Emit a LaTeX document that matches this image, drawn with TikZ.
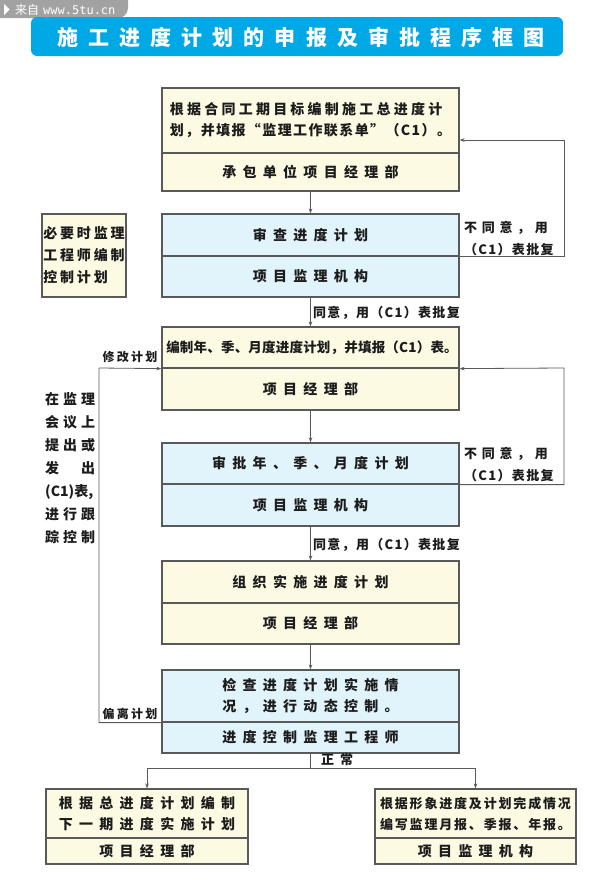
\documentclass[tikz,border=0pt]{standalone}
\usepackage{fontspec}
\setmainfont{Noto Sans CJK SC}
\newfontfamily\tabfont{DejaVu Sans Mono}
\newfontfamily\titlefont{Noto Sans CJK SC}[LetterSpace=48]
\usetikzlibrary{arrows.meta}

\definecolor{cream}{HTML}{FDFAE3}
\definecolor{paleblue}{HTML}{E1F3FB}
\definecolor{edge}{HTML}{595959}
\definecolor{ink}{HTML}{1C1C1C}
\definecolor{titleblue}{HTML}{00A8E6}
\definecolor{tabgray}{HTML}{A2A2A2}

\tikzset{
  yellowbox/.style={draw=edge, line width=1.2pt, fill=cream, minimum width=297pt, inner sep=0pt, text=ink},
  bluebox/.style={yellowbox, fill=paleblue},
  flow/.style={draw=edge, line width=0.8pt, -{Stealth[length=5pt,width=3.6pt]}},
  wire/.style={draw=edge, line width=0.8pt},
  wide/.style={font={\bfseries\fontsize{14}{21}\selectfont\addfontfeature{LetterSpace=45}}},
  tight/.style={font={\bfseries\fontsize{14}{21}\selectfont\addfontfeature{LetterSpace=23}}},
  note/.style={text=ink, inner sep=0pt, font={\bfseries\fontsize{13}{22}\selectfont\addfontfeature{LetterSpace=10}}},
  small/.style={text=ink, inner sep=0pt, font={\bfseries\fontsize{12}{14}\selectfont\addfontfeature{LetterSpace=19}}}
}

\begin{document}
\begin{tikzpicture}[x=1pt, y=-1pt]
\useasboundingbox (0,0) rectangle (591,886);

% source tab and title bar
\fill[tabgray, rounded corners=10pt] (-14,-14) rectangle (128,18);
\fill[white] (4,4) -- (9.5,9.5) -- (4,15) -- cycle;
\node[anchor=west, inner sep=0pt, text=white, font=\fontsize{12}{12}\selectfont] (tab) at (15,9.5) {来自\hspace{4pt}{\tabfont\fontsize{12}{12}\selectfont www.5tu.cn}};
\fill[titleblue, rounded corners=6pt] (31,17) rectangle (563,56);
\node[text=white, inner sep=0pt, font={\titlefont\bfseries\fontsize{21}{21}\selectfont}] (title) at (301,37) {施工进度计划的申报及审批程序框图};

% main column
\node[yellowbox, minimum height=65pt, align=left, tight] (b1) at (310.5,120.5) {根据合同工期目标编制施工总进度计\\{\addfontfeature{LetterSpace=10}划，并填报“监理工作联系单”（C1）。}};
\node[yellowbox, minimum height=38pt, wide] (b1l) at (310.5,172) {承包单位项目经理部};

\node[bluebox, minimum height=42pt, wide] (b2) at (310.5,235) {审查进度计划};
\node[bluebox, minimum height=41pt, wide] (b2l) at (310.5,276.5) {项目监理机构};

\node[yellowbox, minimum height=41pt, font={\bfseries\fontsize{13.5}{20}\selectfont\addfontfeature{LetterSpace=1.5}}] (b3) at (310.5,347.5) {\hspace*{3pt}编制年、季、月度进度计划，并填报（C1）表。};
\node[yellowbox, minimum height=42pt, wide] (b3l) at (310.5,389) {项目经理部};

\node[bluebox, minimum height=41pt, wide] (b4) at (310.5,463.5) {审批年、季、月度计划};
\node[bluebox, minimum height=42pt, wide] (b4l) at (310.5,505) {项目监理机构};

\node[yellowbox, minimum height=42pt, wide] (b5) at (310.5,582) {组织实施进度计划};
\node[yellowbox, minimum height=41pt, wide] (b5l) at (310.5,623.5) {项目经理部};

\node[bluebox, minimum height=52pt, align=left, wide] (b6) at (310.5,696) {检查进度计划实施情\\况，进行动态控制。};
\node[bluebox, minimum height=31pt, wide] (b6l) at (310.5,737.5) {进度控制监理工程师};

% bottom boxes
\node[yellowbox, minimum width=202pt, minimum height=49pt, align=center, wide] (b7) at (147,813.5) {根据总进度计划编制\\下一期进度实施计划};
\node[yellowbox, minimum width=202pt, minimum height=26pt, wide] (b7l) at (147,851) {项目经理部};
\node[yellowbox, minimum width=201pt, minimum height=49pt, align=center, font={\bfseries\fontsize{13}{21}\selectfont\addfontfeature{LetterSpace=14}}] (b8) at (475.5,813.5) {根据形象进度及计划完成情况\\编写监理月报、季报、年报。};
\node[yellowbox, minimum width=201pt, minimum height=26pt, wide] (b8l) at (475.5,851) {项目监理机构};

% left side
\node[yellowbox, minimum width=84pt, minimum height=83pt, align=left, font={\bfseries\fontsize{14}{22}\selectfont\addfontfeature{LetterSpace=20}}] (side) at (84,255.5) {必要时监理\\工程师编制\\控制计划};
\node[anchor=west, inner sep=0pt, text=ink, align=left, font={\bfseries\fontsize{14}{23}\selectfont\addfontfeature{LetterSpace=28}}] (meet) at (45,468) {在监理\\会议上\\提出或\\发　出\\{\addfontfeature{LetterSpace=0}(C1)表,}\\进行跟\\踪控制};

% labels
\node[note, anchor=west] (ok1) at (313,313) {同意，用（C1）表批复};
\node[note, anchor=west] (ok2) at (313,545) {同意，用（C1）表批复};
\node[note, anchor=west, align=left] (no1) at (464,238.5) {{\addfontfeature{LetterSpace=36}不同意，用}\\（C1）表批复};
\node[note, anchor=west, align=left] (no2) at (464,465) {{\addfontfeature{LetterSpace=36}不同意，用}\\（C1）表批复};
\node[small] (modify) at (130,357) {修改计划};
\node[small] (deviate) at (130,714) {偏离计划};
\node[note, anchor=west, font={\bfseries\fontsize{13}{13}\selectfont\addfontfeature{LetterSpace=45}}] (normal) at (321,760) {正常};

% connectors
\draw[flow] (b1l) -- (b2);
\draw[flow] (b2l) -- (b3);
\draw[flow] (b3l) -- (b4);
\draw[flow] (b4l) -- (b5);
\draw[flow] (b5l) -- (b6);

\coordinate (fb1) at (564,140);
\coordinate (fb2) at (564,368);
\coordinate (fb3) at (99,368);
\draw[flow] (b2.south east) -| (fb1) -- (b1.east |- fb1);
\draw[flow] (b4.south east) -| (fb2) -- (b3.south east);
\draw[flow] (b6.south west) -| (fb3) -- (b3.south west);

\coordinate (split) at (310.5,768);
\draw[wire] (b6l) -- (split);
\draw[flow] (split) -| (b7);
\draw[flow] (split) -| (b8);

\end{tikzpicture}
\end{document}
